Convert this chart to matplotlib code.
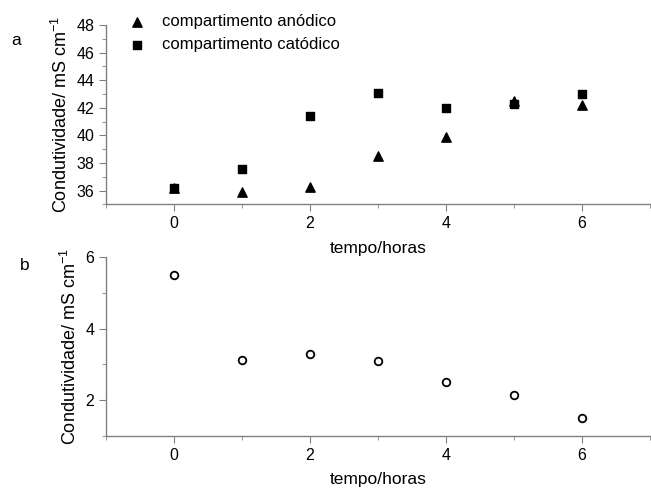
import matplotlib
matplotlib.use("Agg")
import matplotlib.pyplot as plt
from matplotlib.ticker import MultipleLocator

plt.rcParams['font.family'] = ['Liberation Sans', 'DejaVu Sans']
plt.rcParams['mathtext.fontset'] = 'custom'
plt.rcParams['mathtext.rm'] = 'Liberation Sans'
plt.rcParams['mathtext.it'] = 'Liberation Sans'
plt.rcParams['mathtext.bf'] = 'Liberation Sans'

tempo = [0, 1, 2, 3, 4, 5, 6]
anodico = [36.2, 35.9, 36.3, 38.5, 39.9, 42.5, 42.2]
catodico = [36.2, 37.6, 41.4, 43.1, 42.0, 42.3, 43.0]
diferenca = [5.5, 3.12, 3.3, 3.1, 2.5, 2.15, 1.5]

fig = plt.figure(figsize=(6.51, 4.88), dpi=100)
ax1 = fig.add_axes([0.163, 0.581, 0.835, 0.368])
ax2 = fig.add_axes([0.163, 0.107, 0.835, 0.366])

gray = '#808080'
ylab = 'Condutividade/ mS cm$^{\\mathregular{-1}}$'
for ax in (ax1, ax2):
    for s in ('top', 'right'):
        ax.spines[s].set_visible(False)
    for s in ('left', 'bottom'):
        ax.spines[s].set_color(gray)
        ax.spines[s].set_linewidth(1.0)
    ax.tick_params(which='both', direction='out', color=gray, labelsize=11.5)
    ax.tick_params(which='major', length=5)
    ax.tick_params(which='minor', length=3)
    ax.set_xlim(-1, 7)
    ax.xaxis.set_major_locator(MultipleLocator(2))
    ax.xaxis.set_minor_locator(MultipleLocator(1))
    ax.set_xlabel('tempo/horas', fontsize=12.5, labelpad=7)
    ax.set_ylabel(ylab, fontsize=13, labelpad=4)

ax1.scatter(tempo, anodico, marker='^', s=45, color='black', label='compartimento anódico', zorder=3)
ax1.scatter(tempo, catodico, marker='s', s=30, color='black', label='compartimento catódico', zorder=3)
ax1.set_ylim(35, 48)
ax1.set_yticks([36, 38, 40, 42, 44, 46, 48])
ax1.yaxis.set_minor_locator(MultipleLocator(1))
leg = ax1.legend(loc='upper left', bbox_to_anchor=(0.03, 1.095), frameon=False,
                 fontsize=12, handlelength=1.0, handletextpad=1.0,
                 labelspacing=0.45, borderaxespad=0)

ax2.scatter(tempo, diferenca, marker='o', s=30, facecolors='white', edgecolors='black', linewidths=1.3, zorder=3)
ax2.set_ylim(1, 6)
ax2.set_yticks([2, 4, 6])
ax2.yaxis.set_minor_locator(MultipleLocator(1))

fig.text(0.018, 0.908, 'a', fontsize=12.5)
fig.text(0.03, 0.447, 'b', fontsize=12.5)

fig.savefig('out.png', dpi=100)
